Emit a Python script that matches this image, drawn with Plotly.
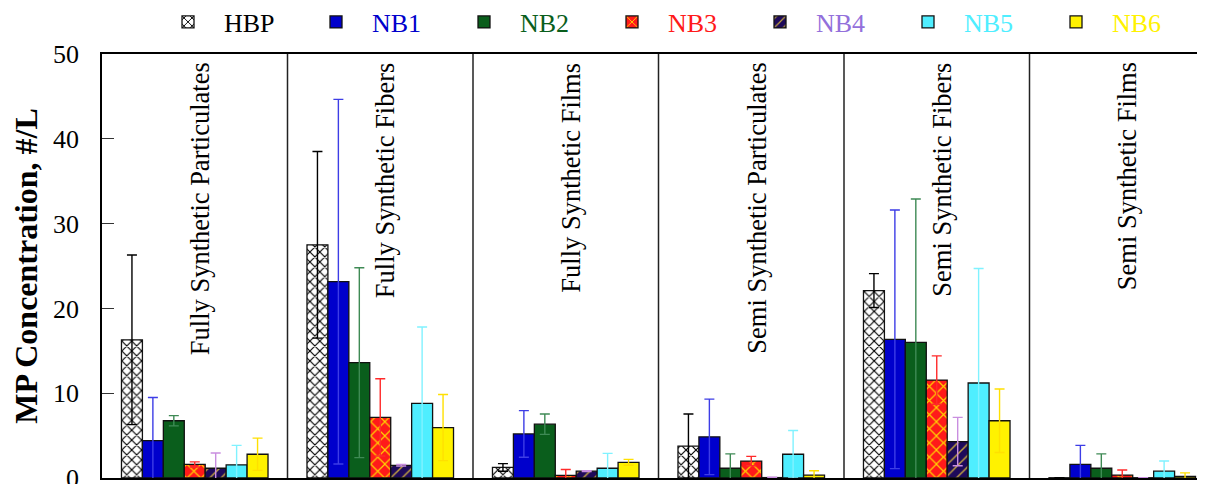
import plotly.graph_objects as go

categories = ["Fully Synthetic Particulates", "Fully Synthetic Fibers", "Fully Synthetic Films",
              "Semi Synthetic Particulates", "Semi Synthetic Fibers", "Semi Synthetic Films"]
series_names = ["HBP", "NB1", "NB2", "NB3", "NB4", "NB5", "NB6"]

hbp = [16.3, 27.5, 1.25, 3.75, 22.1, 0.03]
hbp_err = [10.0, 11.0, 0.45, 3.8, 2.0, 0.0]
nb1 = [4.4, 23.15, 5.2, 4.85, 16.35, 1.6]
nb1_err = [5.1, 21.5, 2.75, 4.45, 15.25, 2.25]
nb2 = [6.75, 13.6, 6.35, 1.15, 16.0, 1.15]
nb2_err = [0.6, 11.2, 1.2, 1.7, 16.9, 1.7]
nb3 = [1.6, 7.15, 0.3, 2.0, 11.55, 0.35]
nb3_err = [0.3, 4.55, 0.7, 0.55, 2.85, 0.6]
nb4 = [1.15, 1.5, 0.8, 0.05, 4.3, 0.03]
nb4_err = [1.8, 0.1, 0.05, 0.05, 2.85, 0.0]
nb5 = [1.55, 8.8, 1.15, 2.8, 11.2, 0.8]
nb5_err = [2.3, 9.0, 1.75, 2.8, 13.5, 1.2]
nb6 = [2.8, 5.95, 1.85, 0.35, 6.75, 0.2]
nb6_err = [1.9, 3.9, 0.35, 0.5, 3.75, 0.4]

y_ticks = [0, 10, 20, 30, 40, 50]

values = [hbp, nb1, nb2, nb3, nb4, nb5, nb6]
errors = [hbp_err, nb1_err, nb2_err, nb3_err, nb4_err, nb5_err, nb6_err]

styles = [
    dict(bg="#ffffff", fg="#000000", shape="x", size=7, sol=0.3, err="#000000", txt="#000000"),
    dict(bg="#0000cc", fg=None, shape="", size=8, sol=0.2, err="#3d3de6", txt="#0000cc"),
    dict(bg="#0a5e1c", fg=None, shape="", size=8, sol=0.2, err="#3f8a55", txt="#0a5e1c"),
    dict(bg="#ff1a1a", fg="#ffd400", shape="x", size=10, sol=0.22, err="#ff2a2a", txt="#ff1a1a"),
    dict(bg="#1e0a5a", fg="#c8a840", shape="/", size=8, sol=0.18, err="#c98ee0", txt="#9370db"),
    dict(bg="#4feeff", fg=None, shape="", size=8, sol=0.2, err="#80f2ff", txt="#4feeff"),
    dict(bg="#fff200", fg=None, shape="", size=8, sol=0.2, err="#ffe000", txt="#fff200"),
]

FONT = "Liberation Serif"
W, H = 1197, 476
fig = go.Figure()
x_idx = list(range(len(categories)))
for name, vals, errs, st in zip(series_names, values, errors, styles):
    marker = dict(color=st["bg"], line=dict(color="#111111", width=1.3))
    if st["shape"]:
        marker["pattern"] = dict(shape=st["shape"], fgcolor=st["fg"], bgcolor=st["bg"],
                                 size=st["size"], solidity=st["sol"], fillmode="replace")
    fig.add_trace(go.Bar(
        x=x_idx, y=vals, name=f"<span style='color:{st['txt']}'>{name}</span>",
        marker=marker,
        error_y=dict(type="data", array=errs, symmetric=True, color=st["err"],
                     thickness=1.4, width=5),
    ))

# group dividers
for i in range(len(categories) - 1):
    fig.add_shape(type="line", xref="x", yref="paper", x0=i + 0.5, x1=i + 0.5, y0=0, y1=1,
                  line=dict(color="#222222", width=1.5), layer="above")

# rotated category labels
for i, c in enumerate(categories):
    fig.add_annotation(x=i + 0.03, xref="x", y=0.985, yref="paper", text=c, textangle=-90,
                       showarrow=False, xanchor="center", yanchor="top",
                       font=dict(family=FONT, size=26.5, color="#000000"))

fig.update_layout(
    width=W, height=H,
    margin=dict(l=94, r=0, t=46, b=6, autoexpand=False),
    paper_bgcolor="white", plot_bgcolor="white",
    barmode="group", bargap=0.21, bargroupgap=0.0,
    font=dict(family=FONT, size=26, color="#000000"),
    showlegend=True,
    legend=dict(orientation="h", xref="container", yref="container", x=144 / W, y=1 - 14 / H,
                xanchor="left", yanchor="middle", font=dict(family=FONT, size=26),
                itemwidth=62, entrywidth=71, entrywidthmode="pixels",
                bgcolor="rgba(0,0,0,0)", traceorder="normal"),
    xaxis=dict(range=[-0.5, -0.5 + 1103 / 185.5], showticklabels=False, ticks="",
               showline=True, mirror=True, linecolor="#000000", linewidth=1.5,
               showgrid=False, zeroline=False, fixedrange=True),
    yaxis=dict(range=[0, 50], tickvals=y_ticks, ticks="inside", ticklen=12, tickwidth=1.3,
               tickcolor="#333333", showline=True, mirror=False, linecolor="#000000",
               linewidth=1.5, showgrid=False, zeroline=False, ticklabelstandoff=16,
               ticklabeloverflow="allow",
               tickfont=dict(family=FONT, size=26),
               title=dict(text="<b>MP Concentration, #/L</b>", standoff=12,
                          font=dict(family=FONT, size=32))),
)

fig.write_html("out.html")
